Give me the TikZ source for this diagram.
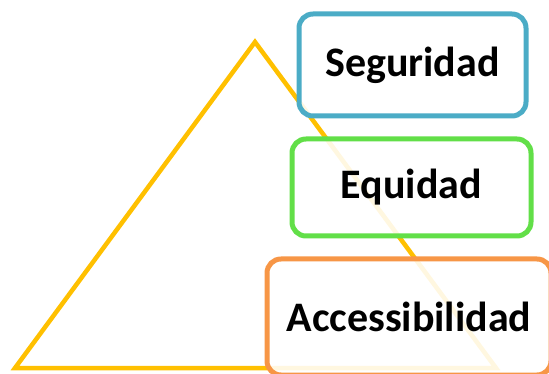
\documentclass[tikz,border=0pt]{standalone}
\usepackage{fontspec}
\setmainfont{Carlito}
\begin{document}
\begin{tikzpicture}[x=1pt,y=-1pt,
  box/.style={draw, line width=5pt, rounded corners=14pt, fill=white, fill opacity=0.88, text opacity=1,
    inner sep=0pt, font=\fontsize{42}{50}\selectfont\bfseries, text=black, anchor=center}]
\definecolor{triyellow}{HTML}{FFC000}
\definecolor{segblue}{HTML}{4BACC6}
\definecolor{eqgreen}{HTML}{62DF48}
\definecolor{accorange}{HTML}{F79646}
\useasboundingbox (0,0) rectangle (549,374);
\clip (0,0) rectangle (549,374);
\coordinate (tl) at (15,368);
\coordinate (tt) at (255,42);
\coordinate (tr) at (496,368);
\draw[triyellow, line width=4.5pt] (tl) -- (tt) -- (tr) -- cycle;
\node[box, draw=segblue, minimum width=227pt, minimum height=102pt] (seg) at (412.5,65) {Seguridad};
\node[box, draw=eqgreen, minimum width=239pt, minimum height=97pt] (eq) at (411.5,187.5) {Equidad};
\node[box, draw=accorange, minimum width=284pt, minimum height=116pt] (acc) at (409,317) {Accessibilidad};
\end{tikzpicture}
\end{document}
